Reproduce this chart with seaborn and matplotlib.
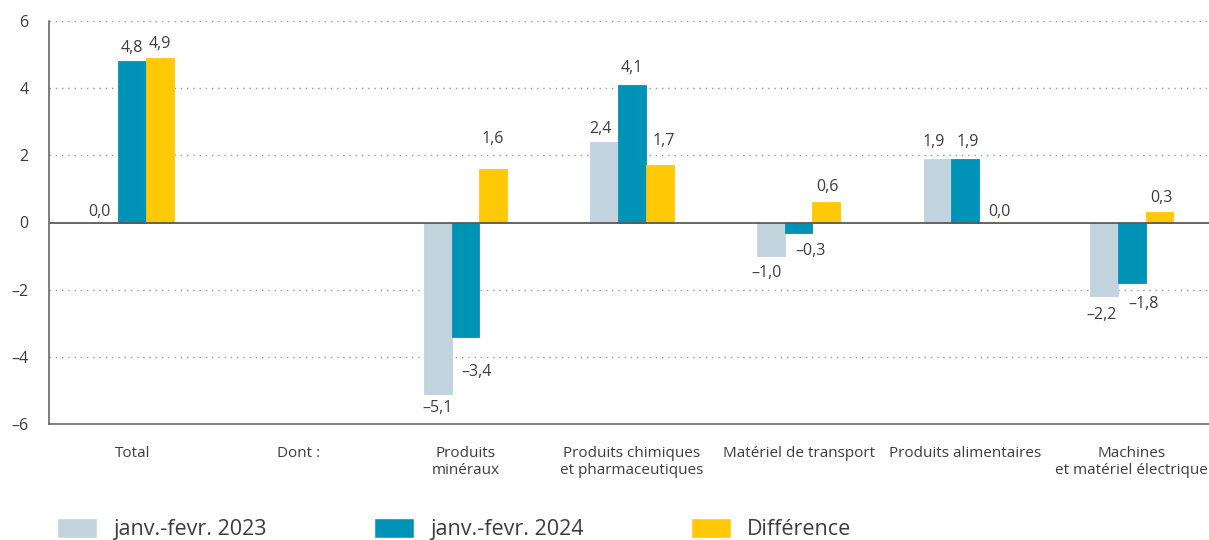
import numpy as np
import pandas as pd
import matplotlib
matplotlib.use("Agg")
import matplotlib.pyplot as plt
import seaborn as sns

# Data
categories = ["Total", "Dont :", "Produits\nminéraux",
              "Produits chimiques\net pharmaceutiques", "Matériel de transport",
              "Produits alimentaires", "Machines\net matériel électrique"]
series = ["janv.-fevr. 2023", "janv.-fevr. 2024", "Différence"]
v2023 = [0.0, np.nan, -5.1, 2.4, -1.0, 1.9, -2.2]
v2024 = [4.8, np.nan, -3.4, 4.1, -0.3, 1.9, -1.8]
vdiff = [4.9, np.nan, 1.6, 1.7, 0.6, 0.0, 0.3]
yticks = [-6, -4, -2, 0, 2, 4, 6]

colors = ["#c1d3dc", "#0093b8", "#ffca05"]
txt = "#3c3c3c"
axc = "#5a5a5a"

# label nudges in pixels (dx, dy with dy>0 = downwards), per series / category
nudges = {
    0: [(-5, -11), None, (0, 14), (-4, -13), (-4, 17), (-4, -17), (-2, 19)],
    1: [(0, -13), None, (11, 35), (0, -17), (12, 18), (3, -17), (12, 21)],
    2: [(0, -14), None, (0, -30), (4, -24), (1, -15), (7, -11), (2, -14)],
}

df = pd.DataFrame({
    "cat": categories * 3,
    "serie": np.repeat(series, len(categories)),
    "val": v2023 + v2024 + vdiff,
})

sns.set_theme(style="white")
plt.rcParams["font.family"] = ["Open Sans", "DejaVu Sans"]

fig = plt.figure(figsize=(12.09, 5.40), dpi=100)
ax = fig.add_axes([49 / 1209, 1 - 424 / 540, 1166 / 1209, 403 / 540])

sns.barplot(data=df, x="cat", y="val", hue="serie", order=categories,
            hue_order=series, palette=colors, width=0.5, ax=ax,
            saturation=1, legend=True, zorder=3)

for c in ax.containers:
    for b in c:
        b.set_edgecolor(b.get_facecolor())
        b.set_linewidth(0.6)

ax.set_ylim(-6, 6)
ax.set_xlim(-0.5, 6.5)
ax.set_xlabel("")
ax.set_ylabel("")

# gridlines + zero line
for y in [-4, -2, 2, 4, 6]:
    ax.axhline(y, color="#9a9a9a", lw=1.0, ls=(0, (1, 3.5)), zorder=1)
ax.axhline(0, color=axc, lw=1.3, zorder=4)

for s in ["top", "right"]:
    ax.spines[s].set_visible(False)
for s in ["left", "bottom"]:
    ax.spines[s].set_color(axc)
    ax.spines[s].set_linewidth(1.1)

ax.set_yticks(yticks)
ax.set_yticklabels([str(t).replace("-", "–") for t in yticks])
ax.tick_params(axis="y", direction="out", length=8.6, width=1.1,
               color=axc, labelsize=11.5, labelcolor=txt, pad=6)
ax.set_xticks(range(len(categories)))
ax.set_xticklabels(categories)
ax.tick_params(axis="x", which="major", length=0, pad=16, labelsize=11,
               labelcolor=txt)
ax.set_xticks(np.arange(0.5, 6, 1), minor=True)
ax.tick_params(axis="x", which="minor", direction="in", length=8.6,
               width=1.1, color=axc)

# value labels
vals = [v2023, v2024, vdiff]
for si, c in enumerate(ax.containers):
    for b in c:
        xc = b.get_x() + b.get_width() / 2
        ci = int(round(xc))
        v = vals[si][ci]
        if np.isnan(v) or nudges[si][ci] is None:
            continue
        dx, dy = nudges[si][ci]
        lab = f"{v:.1f}".replace(".", ",").replace("-", "–")
        ax.annotate(lab, xy=(xc, v), xytext=(dx * 0.72, -dy * 0.72),
                    textcoords="offset points", ha="center", va="center",
                    fontsize=11.5, color=txt, zorder=5)

# legend at bottom
handles, labels = ax.get_legend_handles_labels()
ax.get_legend().remove()
fig.legend(handles, labels, loc="center left",
           bbox_to_anchor=(57 / 1209, 1 - 529 / 540), ncol=3, frameon=False,
           fontsize=15.5, labelcolor=txt, handlelength=1.86, handleheight=1.07,
           handletextpad=0.74, columnspacing=5.0, borderpad=0,
           borderaxespad=0)

fig.savefig("out.png", dpi=100)
